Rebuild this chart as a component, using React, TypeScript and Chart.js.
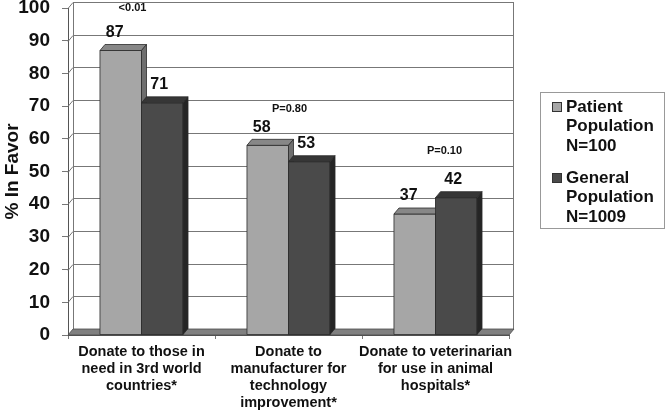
import React, { useEffect, useRef } from 'react'
import { Chart, registerables } from 'chart.js'

Chart.register(...registerables)

const categories = [
  ['Donate to those in', 'need in 3rd world', 'countries*'],
  ['Donate to', 'manufacturer for', 'technology', 'improvement*'],
  ['Donate to veterinarian', 'for use in animal', 'hospitals*'],
]
const seriesNames = [
  ['Patient', 'Population', 'N=100'],
  ['General', 'Population', 'N=1009'],
]
const patientValues = [87, 58, 37]
const generalValues = [71, 53, 42]
const pValues = ['<0.01', 'P=0.80', 'P=0.10']
const yTicks = [0, 10, 20, 30, 40, 50, 60, 70, 80, 90, 100]

const FONT = "'Liberation Sans', Arial, sans-serif"
const DX = 5
const DY = 6

// front / top / side shades per series
const shades = [
  { front: '#a6a6a6', top: '#878787', side: '#6e6e6e' },
  { front: '#4a4a4a', top: '#363636', side: '#252525' },
]

const poly = (ctx: CanvasRenderingContext2D, pts: number[][], fill: string, stroke = '#2b2b2b') => {
  ctx.beginPath()
  ctx.moveTo(pts[0][0], pts[0][1])
  for (let i = 1; i < pts.length; i++) ctx.lineTo(pts[i][0], pts[i][1])
  ctx.closePath()
  ctx.fillStyle = fill
  ctx.fill()
  ctx.lineWidth = 0.8
  ctx.strokeStyle = stroke
  ctx.stroke()
}

const wallPlugin = {
  id: 'wall3d',
  beforeDatasetsDraw(chart: any) {
    const { ctx, chartArea, scales } = chart
    const { left, right } = chartArea
    const y = scales.y
    const y0 = y.getPixelForValue(0)
    const yTop = y.getPixelForValue(yTicks[yTicks.length - 1])
    ctx.save()
    // back wall
    ctx.fillStyle = '#ffffff'
    ctx.fillRect(left + DX, yTop - DY, right - left, y0 - yTop)
    ctx.strokeStyle = '#777'
    ctx.lineWidth = 1
    yTicks.forEach((v) => {
      if (v === 0) return
      const py = Math.round(y.getPixelForValue(v)) + 0.5
      ctx.beginPath()
      ctx.moveTo(left, py)
      ctx.lineTo(left + DX, py - DY)
      ctx.lineTo(right + DX, py - DY)
      ctx.stroke()
    })
    ctx.beginPath()
    ctx.moveTo(left + DX + 0.5, y0 - DY)
    ctx.lineTo(left + DX + 0.5, yTop - DY)
    ctx.moveTo(right + DX - 0.5, yTop - DY)
    ctx.lineTo(right + DX - 0.5, y0 - DY)
    ctx.stroke()
    // floor
    poly(ctx, [[left, y0], [right, y0], [right + DX, y0 - DY], [left + DX, y0 - DY]], '#808080', '#4a4a4a')
    ctx.restore()
  },
  afterDatasetsDraw(chart: any) {
    const { ctx, scales } = chart
    const y = scales.y
    const metas = [chart.getDatasetMeta(0), chart.getDatasetMeta(1)]
    ctx.save()
    for (let i = 0; i < categories.length; i++) {
      metas.forEach((meta, d) => {
        const b = meta.data[i]
        const l = b.x - b.width / 2
        const r = b.x + b.width / 2
        const t = b.y
        const base = b.base
        const s = shades[d]
        poly(ctx, [[l, t], [r, t], [r, base], [l, base]], s.front)
        poly(ctx, [[l, t], [r, t], [r + DX, t - DY], [l + DX, t - DY]], s.top)
        poly(ctx, [[r, t], [r + DX, t - DY], [r + DX, base - DY], [r, base]], s.side)
      })
    }
    // value labels
    ctx.fillStyle = '#111'
    ctx.font = `bold 16px ${FONT}`
    ctx.textAlign = 'center'
    ctx.textBaseline = 'middle'
    const labelShift = [-6, -3]
    metas.forEach((meta, d) => {
      const vals = d === 0 ? patientValues : generalValues
      meta.data.forEach((b: any, i: number) => {
        ctx.fillText(String(vals[i]), b.x + labelShift[d], b.y - 18)
      })
    })
    // p values above each group
    const pShift = [[-9, -43], [1, -36], [9, -47]]
    ctx.font = `bold 11px ${FONT}`
    pValues.forEach((p, i) => {
      const cx = scales.x.getPixelForValue(i)
      const top = y.getPixelForValue(Math.max(patientValues[i], generalValues[i]))
      ctx.fillText(p, cx + pShift[i][0], top + pShift[i][1])
    })
    ctx.restore()
  },
  afterDraw(chart: any) {
    const { ctx } = chart
    ctx.save()
    ctx.strokeStyle = '#999'
    ctx.lineWidth = 1
    ctx.strokeRect(540.5, 92.5, 124, 136)
    ctx.font = `bold 17px ${FONT}`
    ctx.textAlign = 'left'
    ctx.textBaseline = 'middle'
    seriesNames.forEach((lines, d) => {
      const top = 107 + d * 71
      ctx.fillStyle = shades[d].front
      ctx.fillRect(552.5, top - 4.5, 9, 9)
      ctx.strokeStyle = '#333'
      ctx.strokeRect(552.5, top - 4.5, 9, 9)
      ctx.fillStyle = '#111'
      lines.forEach((ln, k) => ctx.fillText(ln, 566, top + k * 19.5))
    })
    ctx.restore()
  },
}

export default function App() {
  const canvasRef = useRef<HTMLCanvasElement | null>(null)

  useEffect(() => {
    const el = canvasRef.current
    if (!el) return
    Chart.defaults.font.family = FONT

    const chart = new Chart(el, {
      type: 'bar',
      data: {
        labels: categories,
        datasets: [
          { label: seriesNames[0].join(' '), data: patientValues, backgroundColor: shades[0].front, barPercentage: 1, categoryPercentage: 0.565 },
          { label: seriesNames[1].join(' '), data: generalValues, backgroundColor: shades[1].front, barPercentage: 1, categoryPercentage: 0.565 },
        ],
      },
      options: {
        animation: false,
        responsive: true,
        maintainAspectRatio: false,
        layout: { padding: { top: 8, right: 157, left: 0, bottom: 0 } },
        plugins: { legend: { display: false }, tooltip: { enabled: false } },
        scales: {
          x: {
            grid: { drawOnChartArea: false, tickLength: 4, color: '#777', offset: true },
            border: { display: true, color: '#555' },
            ticks: { color: '#111', font: { size: 14.5, weight: 'bold', lineHeight: 1.17 }, padding: 5, maxRotation: 0, autoSkip: false },
            afterFit: (s: any) => { s.height = 77; s.paddingLeft = 0; s.paddingRight = 0 },
          },
          y: {
            min: 0,
            max: 100,
            afterBuildTicks: (s: any) => { s.ticks = yTicks.map((v) => ({ value: v })) },
            grid: { drawOnChartArea: false, tickLength: 6, color: '#777' },
            border: { display: true, color: '#555' },
            ticks: { color: '#111', font: { size: 19, weight: 'bold' }, padding: 12 },
            title: { display: true, text: '% In Favor', color: '#111', font: { size: 19, weight: 'bold' }, padding: { top: 1, bottom: 0 } },
            afterFit: (s: any) => { s.width = 68; s.paddingTop = 0; s.paddingBottom = 0 },
          },
        },
      },
      plugins: [wallPlugin],
    })

    return () => chart.destroy()
  }, [])

  return (
    <div style={{ position: 'absolute', left: 0, top: 0, width: 666, height: 412, background: '#fff' }}>
      <canvas ref={canvasRef}></canvas>
    </div>
  )
}
